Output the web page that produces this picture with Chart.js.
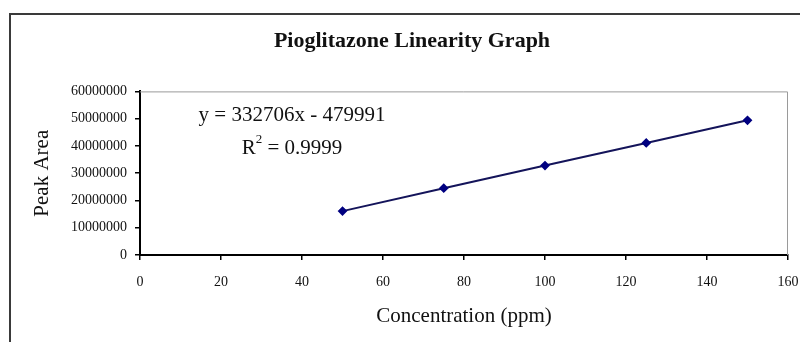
<!DOCTYPE html>
<html lang="en">
<head>
    <meta charset="UTF-8">
    <title>Pioglitazone Linearity Graph</title>
    <script src="https://cdn.jsdelivr.net/npm/chart.js"></script>
    <style>
        html, body { margin: 0; padding: 0; background: #fff; }
        .chart-box { width: 800px; height: 342px; }
    </style>
</head>
<body>
    <div class="chart-box">
        <canvas id="myChartLinearity"></canvas>
    </div>

<script>
    var concentration = [50, 75, 100, 125, 150]
    var peakArea = [16100000, 24500000, 32800000, 41100000, 49400000]
    var equationText = 'y = 332706x - 479991'
    var r2Text = ' = 0.9999'

    const serif = "'Liberation Serif', 'Times New Roman', serif";

    // outer frame + grey plot border + regression label
    const framePlugin = {
        id: 'frame',
        beforeDraw(chart) {
            const ctx = chart.ctx;
            ctx.save();
            ctx.fillStyle = '#fff';
            ctx.fillRect(0, 0, chart.width, chart.height);
            ctx.strokeStyle = '#3a3a3a';
            ctx.lineWidth = 2;
            ctx.beginPath();
            ctx.moveTo(10, chart.height);
            ctx.lineTo(10, 14);
            ctx.lineTo(chart.width, 14);
            ctx.stroke();
            ctx.restore();
        },
        beforeDatasetsDraw(chart) {
            const a = chart.chartArea;
            const ctx = chart.ctx;
            ctx.save();
            ctx.strokeStyle = '#9a9a9a';
            ctx.lineWidth = 1;
            ctx.beginPath();
            ctx.moveTo(a.left, a.top + 0.5);
            ctx.lineTo(a.right - 0.5, a.top + 0.5);
            ctx.lineTo(a.right - 0.5, a.bottom);
            ctx.stroke();
            ctx.restore();
        },
        afterDraw(chart) {
            const a = chart.chartArea;
            const ctx = chart.ctx;
            const cx = a.left + 152;
            ctx.save();
            ctx.fillStyle = '#111';
            ctx.textBaseline = 'middle';
            ctx.textAlign = 'center';
            ctx.font = '21px ' + serif;
            ctx.fillText(equationText, cx, a.top + 24);

            // R² line
            ctx.textAlign = 'left';
            const wR = ctx.measureText('R').width;
            const wRest = ctx.measureText(r2Text).width;
            ctx.font = '13px ' + serif;
            const wSup = ctx.measureText('2').width;
            let x = cx - (wR + wSup + wRest) / 2;
            const y = a.top + 57;
            ctx.font = '21px ' + serif;
            ctx.fillText('R', x, y);
            x += wR;
            ctx.font = '13px ' + serif;
            ctx.fillText('2', x, y - 9);
            x += wSup;
            ctx.font = '21px ' + serif;
            ctx.fillText(r2Text, x, y);
            ctx.restore();
        }
    };

    function ctxLinearity() {
        const ctx = document.getElementById('myChartLinearity').getContext('2d');
        const data = {
            datasets: [{
                label: 'Peak Area',
                data: concentration.map((c, i) => ({ x: c, y: peakArea[i] })),
                borderColor: '#14145a',
                backgroundColor: '#000080',
                borderWidth: 2,
                showLine: true,
                pointStyle: 'rectRot',
                pointRadius: 3.5,
                pointBorderColor: '#000080',
                pointBackgroundColor: '#000080'
            }]
        };

        const config = {
            type: 'scatter',
            data: data,
            options: {
                responsive: true,
                maintainAspectRatio: false,
                animation: false,
                layout: {
                    padding: { left: 36, right: 12, top: 0, bottom: 0 }
                },
                plugins: {
                    legend: { display: false },
                    tooltip: { enabled: false },
                    title: {
                        display: true,
                        text: 'Pioglitazone Linearity Graph',
                        color: '#111',
                        font: { family: serif, size: 22, weight: 'bold', lineHeight: 1.2 },
                        padding: { top: 28, bottom: 37 }
                    }
                },
                scales: {
                    x: {
                        type: 'linear',
                        min: 0,
                        max: 160,
                        ticks: {
                            stepSize: 20,
                            color: '#111',
                            padding: 14,
                            maxRotation: 0,
                            font: { family: serif, size: 14 }
                        },
                        grid: {
                            drawOnChartArea: false,
                            drawTicks: true,
                            tickLength: 5,
                            color: '#000',
                            lineWidth: 1.5
                        },
                        border: { color: '#000', width: 2 },
                        title: {
                            display: true,
                            text: 'Concentration (ppm)',
                            color: '#111',
                            font: { family: serif, size: 21, lineHeight: 1.2 },
                            padding: { top: 4, bottom: 13 }
                        },
                        afterFit(scale) {
                            scale.height = 87;
                            scale.paddingLeft = 0;
                            scale.paddingRight = 0;
                        }
                    },
                    y: {
                        min: 0,
                        max: 60000000,
                        ticks: {
                            stepSize: 10000000,
                            color: '#111',
                            padding: 8,
                            font: { family: serif, size: 14 },
                            callback: (v) => String(v)
                        },
                        grid: {
                            drawOnChartArea: false,
                            drawTicks: true,
                            tickLength: 5,
                            color: '#000',
                            lineWidth: 1.5
                        },
                        border: { color: '#000', width: 2 },
                        title: {
                            display: true,
                            text: 'Peak Area',
                            color: '#111',
                            font: { family: serif, size: 21, lineHeight: 1.2 },
                            padding: { top: -6, bottom: 0 }
                        },
                        afterFit(scale) { scale.width = 104; }
                    }
                }
            },
            plugins: [framePlugin]
        };

        new Chart(ctx, config);
    }

    ctxLinearity()
</script>
</body>
</html>
